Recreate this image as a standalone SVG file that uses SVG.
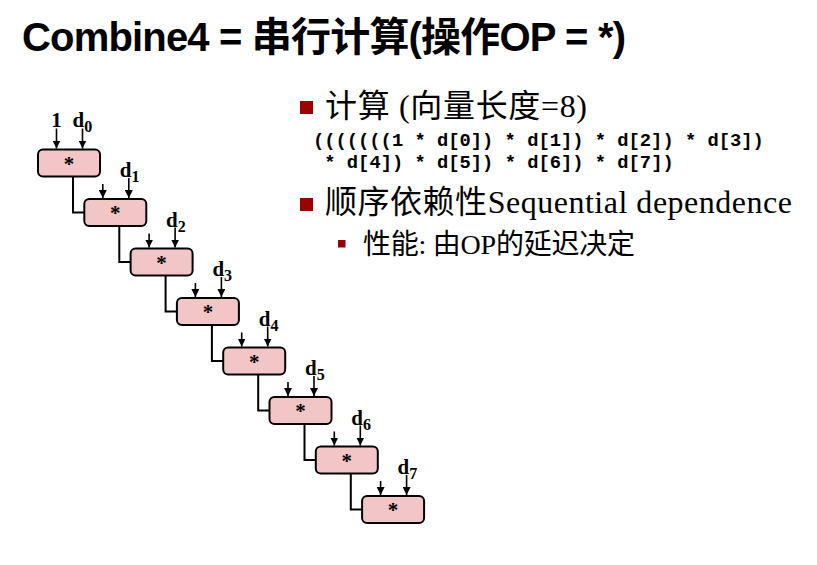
<svg xmlns="http://www.w3.org/2000/svg" width="817" height="565" viewBox="0 0 817 565">
  <style>
    .title { font-family: "Liberation Sans", "Noto Sans CJK SC", sans-serif; font-weight: bold; font-size: 40px; fill: #000; }
    .op { fill: #f2c6c6; stroke: #000; stroke-width: 2; }
    .star { font-family: "Liberation Serif", serif; font-weight: bold; font-size: 21px; text-anchor: middle; fill: #000; }
    .lbl { font-family: "Liberation Serif", serif; font-weight: bold; font-size: 21px; fill: #000; }
    .sub { font-size: 16px; }
    .wire { fill: none; stroke: #000; stroke-width: 2; }
    .in { fill: none; stroke: #000; stroke-width: 1.6; marker-end: url(#arrow); }
    .bul { font-family: "Liberation Serif", "Noto Sans CJK SC", serif; font-size: 32px; fill: #000; }
    .bul2 { font-family: "Liberation Serif", "Noto Sans CJK SC", serif; font-size: 28px; fill: #000; }
    .code { font-family: "Liberation Mono", monospace; font-weight: bold; font-size: 18.8px; fill: #000; }
    .sq { fill: #990000; }
  </style>
  <defs>
    <marker id="arrow" viewBox="0 0 8 8" refX="8" refY="4" markerWidth="8" markerHeight="8" markerUnits="userSpaceOnUse" orient="auto">
      <path d="M0,0 L8,4 L0,8 z" fill="#000"/>
    </marker>
  </defs>

  <rect width="817" height="565" fill="#fff"/>

  <text class="title" x="22" y="51" textLength="604">Combine4 = 串行计算(操作OP = *)</text>

  <!-- multiply chain -->
  <g id="connectors">
    <!-- partial product wires -->
    <path class="wire" d="M73,176.5 V212.5 H84.3"/>
    <path class="wire" d="M119.3,226 V262 H130.6"/>
    <path class="wire" d="M165.6,275.5 V311.5 H176.9"/>
    <path class="wire" d="M211.9,325 V361 H223.2"/>
    <path class="wire" d="M258.2,374.5 V410.5 H269.5"/>
    <path class="wire" d="M304.5,424 V460 H315.8"/>
    <path class="wire" d="M350.8,473.5 V509.5 H362.1"/>
    <!-- operand inputs -->
    <path class="in" d="M56.5,128.5 V148.5"/>
    <path class="in" d="M82.5,128.5 V148.5"/>
    <path class="in" d="M102.8,184 V198"/>
    <path class="in" d="M128.8,178 V198"/>
    <path class="in" d="M149.1,233.5 V247.5"/>
    <path class="in" d="M175.1,227.5 V247.5"/>
    <path class="in" d="M195.4,283 V297"/>
    <path class="in" d="M221.4,277 V297"/>
    <path class="in" d="M241.7,332.5 V346.5"/>
    <path class="in" d="M267.7,326.5 V346.5"/>
    <path class="in" d="M288,382 V396"/>
    <path class="in" d="M314,376 V396"/>
    <path class="in" d="M334.3,431.5 V445.5"/>
    <path class="in" d="M360.3,425.5 V445.5"/>
    <path class="in" d="M380.6,481 V495"/>
    <path class="in" d="M406.6,475 V495"/>
  </g>

  <g id="mul0" transform="translate(38,149.5)">
    <rect class="op" width="62" height="27" rx="5"/>
    <text class="star" x="31" y="21">*</text>
    <text class="lbl" x="18.5" y="-22.5" text-anchor="middle">1</text>
    <text class="lbl" x="34.5" y="-22.5">d<tspan class="sub" dy="5">0</tspan></text>
  </g>
  <g id="mul1" transform="translate(84.3,199)">
    <rect class="op" width="62" height="27" rx="5"/>
    <text class="star" x="31" y="21">*</text>
    <text class="lbl" x="35.5" y="-22">d<tspan class="sub" dy="5">1</tspan></text>
  </g>
  <g id="mul2" transform="translate(130.6,248.5)">
    <rect class="op" width="62" height="27" rx="5"/>
    <text class="star" x="31" y="21">*</text>
    <text class="lbl" x="35.5" y="-22">d<tspan class="sub" dy="5">2</tspan></text>
  </g>
  <g id="mul3" transform="translate(176.9,298)">
    <rect class="op" width="62" height="27" rx="5"/>
    <text class="star" x="31" y="21">*</text>
    <text class="lbl" x="35.5" y="-22">d<tspan class="sub" dy="5">3</tspan></text>
  </g>
  <g id="mul4" transform="translate(223.2,347.5)">
    <rect class="op" width="62" height="27" rx="5"/>
    <text class="star" x="31" y="21">*</text>
    <text class="lbl" x="35.5" y="-22">d<tspan class="sub" dy="5">4</tspan></text>
  </g>
  <g id="mul5" transform="translate(269.5,397)">
    <rect class="op" width="62" height="27" rx="5"/>
    <text class="star" x="31" y="21">*</text>
    <text class="lbl" x="35.5" y="-22">d<tspan class="sub" dy="5">5</tspan></text>
  </g>
  <g id="mul6" transform="translate(315.8,446.5)">
    <rect class="op" width="62" height="27" rx="5"/>
    <text class="star" x="31" y="21">*</text>
    <text class="lbl" x="35.5" y="-22">d<tspan class="sub" dy="5">6</tspan></text>
  </g>
  <g id="mul7" transform="translate(362.1,496)">
    <rect class="op" width="62" height="27" rx="5"/>
    <text class="star" x="31" y="21">*</text>
    <text class="lbl" x="35.5" y="-22">d<tspan class="sub" dy="5">7</tspan></text>
  </g>

  <!-- bullet list -->
  <g id="notes">
    <rect class="sq" x="300" y="101" width="13" height="13"/>
    <text class="bul" x="325" y="117" textLength="262">计算 (向量长度=8)</text>
    <text class="code" x="313" y="146">(((((((1 * d[0]) * d[1]) * d[2]) * d[3])</text>
    <text class="code" x="324.3" y="168">* d[4]) * d[5]) * d[6]) * d[7])</text>
    <rect class="sq" x="300" y="198" width="13" height="13"/>
    <text class="bul" x="325" y="213" textLength="467">顺序依赖性Sequential dependence</text>
    <rect class="sq" x="338" y="240" width="7.5" height="7.5"/>
    <text class="bul2" x="363" y="254" textLength="272">性能: 由OP的延迟决定</text>
  </g>
</svg>
